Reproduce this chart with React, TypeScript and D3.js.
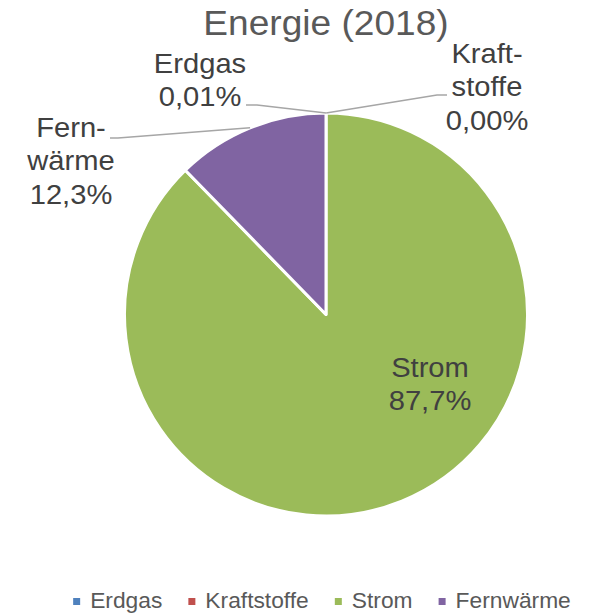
import React from "react";
import * as d3 from "d3";

const categories = ["Erdgas", "Kraftstoffe", "Strom", "Fernwärme"];
const values = [0.01, 0.002, 87.7, 12.3];
const colors = ["#4F81BD", "#C0504D", "#9BBB59", "#8064A2"];
const labelLines = [["Erdgas", "0,01%"], ["Kraft-", "stoffe", "0,00%"], ["Strom", "87,7%"], ["Fern-", "wärme", "12,3%"]];
const title = "Energie (2018)";

const W = 606;
const H = 615;
const cx = 326;
const cy = 314.5;
const R = 201.5;
const FONT = "'Liberation Sans', Arial, sans-serif";
const SX = 1.06; // horizontal widening to match the reference glyph widths

// label placement (relative to pie centre), line step 33.5
const labelPos = [
  { dx: -126, dy: -241.5 },
  { dx: 161, dy: -251.5 },
  { dx: 104, dy: 62.5 },
  { dx: -255, dy: -177.5 },
];
// leader line elbow points (relative to pie centre)
const leaders: ({ ex: number; ey: number; hx: number } | null)[] = [
  { ex: -69, ey: -209.5, hx: -80 },
  { ex: 111, ey: -219.5, hx: 121 },
  null,
  { ex: -208, ey: -176.5, hx: -216 },
];

function measure(text: string, size: number) {
  const c = document.createElement("canvas").getContext("2d")!;
  c.font = `${size}px 'Liberation Sans', Arial, sans-serif`;
  return c.measureText(text).width;
}

export default function App() {
  const pie = d3.pie<number>().sort(null).value((d) => d)(values);
  const arc = d3.arc<d3.PieArcDatum<number>>().innerRadius(0).outerRadius(R);

  const legendSize = 21.5;
  const marker = 7;
  const gapMT = 10;
  const gapItem = 26;
  const widths = categories.map((c) => measure(c, legendSize) * SX);
  const total = widths.reduce((a, w) => a + marker + gapMT + w, 0) + gapItem * (categories.length - 1);
  let lx = 322 - total / 2;
  const legendItems = categories.map((c, i) => {
    const x = lx;
    lx += marker + gapMT + widths[i] + gapItem;
    return { c, x, color: colors[i] };
  });
  const legendY = 608;

  return (
    <svg width={W} height={H} style={{ position: "absolute", left: 0, top: 0, background: "#fff" }}>
      <text
        transform={`translate(326,35) scale(${SX},1)`}
        textAnchor="middle"
        fontFamily={FONT}
        fontSize={35}
        fill="#595959"
      >
        {title}
      </text>
      <g transform={`translate(${cx},${cy})`}>
        {pie.map((p, i) => (
          <path key={categories[i]} d={arc(p) || ""} fill={colors[i]} stroke="#fff" strokeWidth={3} strokeLinejoin="round" />
        ))}
        {pie.map((p, i) => {
          const l = leaders[i];
          if (!l) return null;
          const mid = (p.startAngle + p.endAngle) / 2;
          const ax = Math.sin(mid) * R;
          const ay = -Math.cos(mid) * R;
          return (
            <polyline
              key={"l" + i}
              points={`${l.hx},${l.ey} ${l.ex},${l.ey} ${ax},${ay}`}
              fill="none"
              stroke="#A6A6A6"
              strokeWidth={1.5}
            />
          );
        })}
        {labelLines.map((lines, i) => (
          <text
            key={"t" + i}
            transform={`translate(${labelPos[i].dx},${labelPos[i].dy}) scale(${SX},1)`}
            textAnchor="middle"
            fontFamily={FONT}
            fontSize={27.5}
            fill="#404040"
          >
            {lines.map((ln, j) => (
              <tspan key={j} x={0} y={j * 33.5}>
                {ln}
              </tspan>
            ))}
          </text>
        ))}
      </g>
      <g>
        {legendItems.map((it) => (
          <g key={it.c}>
            <rect x={it.x} y={legendY - 10} width={marker} height={marker} fill={it.color} />
            <text
              transform={`translate(${it.x + marker + gapMT},${legendY}) scale(${SX},1)`}
              fontFamily={FONT}
              fontSize={legendSize}
              fill="#595959"
            >
              {it.c}
            </text>
          </g>
        ))}
      </g>
    </svg>
  );
}
